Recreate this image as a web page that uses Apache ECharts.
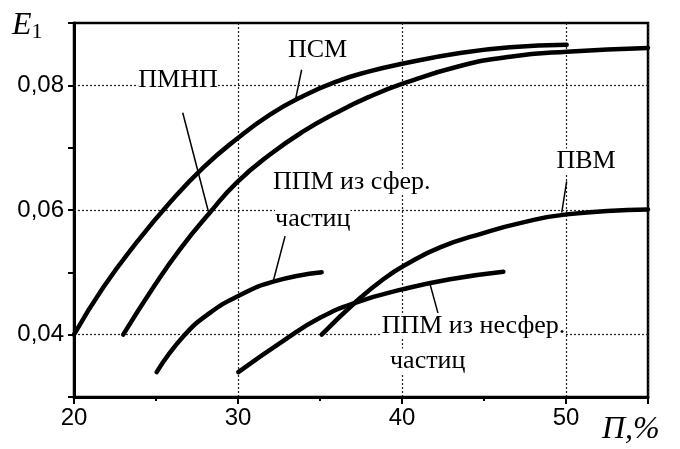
<!DOCTYPE html>
<html>
<head>
<meta charset="utf-8">
<script src="https://cdn.jsdelivr.net/npm/echarts@6/dist/echarts.min.js"></script>
<style>
html,body{margin:0;padding:0;background:#fff;}
#c{width:680px;height:449px;}
</style>
</head>
<body>
<div id="c"></div>
<script>
// Data: [П %, E1]
const psm = [[20,0.040],[21.79,0.0476],[23.82,0.0548],[25.85,0.0612],[27.88,0.0668],[29.92,0.0714],[31.95,0.0753],[33.98,0.0783],[36.0,0.0806],[37.95,0.0822],[40.08,0.0835],[43.54,0.0852],[46.59,0.0861],[50.04,0.0865]];
const pmnp = [[23,0.040],[24.84,0.0476],[26.46,0.0537],[28.29,0.0596],[29.92,0.0644],[31.95,0.0689],[33.98,0.0726],[36.0,0.0756],[37.95,0.0781],[40.08,0.0803],[43.54,0.0831],[46.59,0.0846],[50.04,0.0854],[55,0.0860]];
const ppmSph = [[25.04,0.034],[26.66,0.0397],[28.29,0.0435],[30.02,0.0462],[32.15,0.0485],[35.1,0.050]];
const ppmNonSph = [[30.02,0.034],[32.76,0.039],[35.0,0.0427],[37.24,0.0452],[40.08,0.0473],[42.93,0.0489],[46.18,0.0501]];
const pvm = [[35.1,0.040],[37.24,0.0454],[38.86,0.0489],[40.28,0.0513],[42.32,0.0540],[44.96,0.0563],[47.2,0.0579],[50.04,0.0593],[55,0.0601]];

const xTicks = [20,30,40,50];
const yGridValues = [0.04,0.06,0.08];
const yTickLabels = {'4':'0,04','6':'0,06','8':'0,08'};

// annotation texts (data coords) and leader lines
const labels = [
  {text:'ПМНП', at:[26.34,0.0808], align:'center'},
  {text:'ПСМ', at:[34.85,0.0856], align:'center'},
  {text:'ППМ из сфер.', at:[32.13,0.0645], align:'left'},
  {text:'частиц', at:[32.26,0.0586], align:'left'},
  {text:'ПВМ', at:[51.22,0.0678], align:'center'},
  {text:'ППМ из несфер.', at:[38.76,0.0414], align:'left'},
  {text:'частиц', at:[39.27,0.0357], align:'left'}
];
const leaders = [
  [[26.63,0.0756],[28.19,0.0598]],
  [[33.88,0.0825],[33.48,0.0774]],
  [[32.87,0.0558],[32.15,0.0486]],
  [[50.04,0.0646],[49.74,0.0596]],
  [[41.71,0.0481],[42.21,0.0433]]
];

const chart = echarts.init(document.getElementById('c'), null, {renderer:'canvas'});

function curve(name, data){
  return {name, type:'line', data, smooth:0.5, symbol:'none', z:5,
    lineStyle:{color:'#000', width:4.5, cap:'round', join:'round'}};
}
const series = [
  curve('ПСМ', psm), curve('ПМНП', pmnp), curve('ППМ сфер', ppmSph),
  curve('ППМ несфер', ppmNonSph), curve('ПВМ', pvm),
  {type:'line', data:[], symbol:'none', silent:true,
    markLine:{symbol:'none', silent:true, label:{show:false},
      lineStyle:{type:[2,2], color:'#222', width:1.2},
      data: yGridValues.map(v=>({yAxis:v}))}}
];
leaders.forEach(l=>series.push({type:'line', data:l, symbol:'none', z:4,
  lineStyle:{color:'#000', width:1.5}}));

chart.setOption({
  animation:false,
  backgroundColor:'#fff',
  grid:{left:74, right:32, top:23, bottom:52, show:true, borderColor:'#000', borderWidth:2.5},
  xAxis:{type:'value', min:20, max:55, interval:10,
    axisLine:{lineStyle:{color:'#000', width:3}},
    axisTick:{length:7, lineStyle:{color:'#000', width:2}},
    minorTick:{show:true, splitNumber:2, length:4, lineStyle:{color:'#000', width:2}},
    axisLabel:{color:'#000', fontSize:24, fontFamily:'Liberation Sans', margin:9,
      formatter:v=> xTicks.includes(v) ? String(v) : ''},
    splitLine:{show:true, lineStyle:{type:[2,2], color:'#222', width:1.2}}
  },
  yAxis:{type:'value', min:0.03, max:0.09, interval:0.01,
    axisLine:{lineStyle:{color:'#000', width:3}},
    axisTick:{length:6, lineStyle:{color:'#000', width:2}},
    axisLabel:{color:'#000', fontSize:24, fontFamily:'Liberation Sans', margin:10,
      formatter:v=> yTickLabels[String(Math.round(v*100))] || ''},
    splitLine:{show:false}
  },
  series
});

const g = [];
labels.forEach(l=>{
  const p = chart.convertToPixel({gridIndex:0}, l.at);
  g.push({type:'text', x:p[0], y:p[1], z:10,
    style:{text:l.text, font:'26px "Liberation Serif"', fill:'#000',
      align:l.align, verticalAlign:'middle', backgroundColor:'#fff'}});
});
g.push({type:'text', left:12, top:10, style:{
  rich:{e:{font:'italic 32px "Liberation Serif"', fill:'#000'}, s:{font:'22px "Liberation Serif"', fill:'#000', padding:[12,0,0,0]}},
  text:'{e|E}{s|1}'}});
g.push({type:'text', left:602, top:414, style:{
  text:'П,%', font:'italic 32px "Liberation Serif"', fill:'#000'}});
chart.setOption({graphic:g});
</script>
</body>
</html>
